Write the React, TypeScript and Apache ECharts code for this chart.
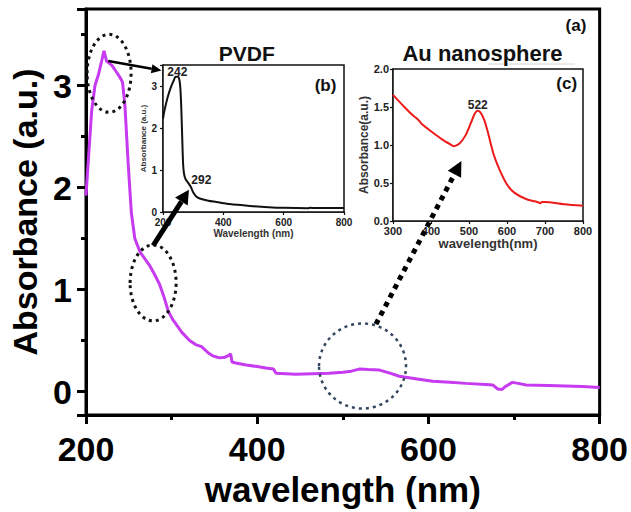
import React, { useEffect, useRef } from 'react';
import * as echarts from 'echarts';

// ---------- main spectrum (a) ----------
const mainWavelength = [200, 203, 206.6, 210.5, 214.3, 218.3, 221, 224, 230, 235.8, 240.4, 242.7, 245.5, 249.3, 253, 257, 263, 268, 274, 280, 286, 291, 296, 301, 306, 312, 321, 328, 335, 342.6, 348, 356, 362, 367.8, 369, 370.5, 375, 387, 400, 410, 419, 422, 445, 465, 484, 500, 510, 519, 530, 543, 555, 566, 585, 605, 625, 644, 667, 675, 681, 686, 690, 698, 705, 714, 740, 760, 780, 800];
const mainAbsorbance = [1.92, 2.3, 2.75, 3.0, 3.1, 3.24, 3.34, 3.24, 3.2, 3.13, 3.07, 3.03, 2.8, 2.23, 1.75, 1.5, 1.37, 1.31, 1.24, 1.15, 1.05, 0.93, 0.79, 0.71, 0.65, 0.58, 0.5, 0.46, 0.44, 0.38, 0.35, 0.33, 0.335, 0.36, 0.37, 0.29, 0.28, 0.26, 0.245, 0.23, 0.22, 0.18, 0.17, 0.175, 0.18, 0.19, 0.2, 0.22, 0.215, 0.21, 0.18, 0.15, 0.125, 0.1, 0.09, 0.08, 0.07, 0.065, 0.025, 0.02, 0.05, 0.09, 0.08, 0.065, 0.06, 0.055, 0.05, 0.04];

// ---------- inset (b) PVDF ----------
const pvdfWavelength = [200, 205, 215, 225, 235, 242, 250, 255, 258, 261, 264, 267, 270, 275, 283, 292, 300, 310, 322, 350, 377, 420, 488, 550, 600, 680, 690, 700, 800];
const pvdfAbsorbance = [2.22, 2.42, 2.72, 2.95, 3.12, 3.22, 3.22, 3.12, 2.9, 2.4, 1.7, 1.1, 0.9, 0.78, 0.7, 0.6, 0.47, 0.37, 0.32, 0.27, 0.24, 0.19, 0.145, 0.115, 0.1, 0.092, 0.1, 0.095, 0.096];

// ---------- inset (c) Au nanosphere ----------
const auWavelength = [300, 330, 350, 365, 370, 375, 400, 430, 450, 460, 475, 490, 505, 515, 522, 530, 540, 550, 565, 580, 600, 620, 650, 680, 688, 692, 700, 750, 800];
const auAbsorbance = [1.66, 1.5, 1.4, 1.34, 1.31, 1.28, 1.18, 1.07, 1.01, 0.985, 1.02, 1.12, 1.29, 1.41, 1.45, 1.43, 1.33, 1.16, 0.875, 0.68, 0.48, 0.37, 0.29, 0.25, 0.235, 0.25, 0.25, 0.22, 0.2];

// ---------- tick values ----------
const mainXTicks = [200, 400, 600, 800];
const mainYTicks = [0, 1, 2, 3];

const zip = (xs: number[], ys: number[]) => xs.map((x, i) => [x, ys[i]]);

const FONT = '"Liberation Sans", Arial, sans-serif';

export default function App() {
  const ref = useRef<HTMLDivElement>(null);

  useEffect(() => {
    if (!ref.current) return;
    const chart = echarts.init(ref.current, undefined, { renderer: 'svg' });

    const bold = (size: number, color = '#000') => ({ fontFamily: FONT, fontWeight: 'bold' as const, fontSize: size, color });

    chart.setOption({
      animation: false,
      backgroundColor: '#fff',
      grid: [
        { left: 86, right: 30, top: 9, bottom: 89, show: true, borderColor: '#000', borderWidth: 3, backgroundColor: 'transparent' },
        { left: 163, top: 65, width: 181, height: 147, show: true, borderColor: '#111', borderWidth: 1.5, backgroundColor: '#fff', z: 5 },
        { left: 393, top: 69, width: 190, height: 152, show: true, borderColor: '#111', borderWidth: 1.5, backgroundColor: '#fff', z: 5 },
      ],
      xAxis: [
        {
          gridIndex: 0, type: 'value', min: 200, max: 800, interval: 200,
          axisLine: { onZero: false, lineStyle: { color: '#000', width: 3 } },
          axisTick: { length: 9, lineStyle: { width: 3, color: '#000' } },
          minorTick: { show: true, splitNumber: 2, length: 5, lineStyle: { width: 3, color: '#000' } },
          splitLine: { show: false },
          axisLabel: { ...bold(34), margin: 17, formatter: (v: number) => (mainXTicks.includes(v) ? String(v) : '') },
          name: 'wavelength (nm)', nameLocation: 'middle', nameGap: 57,
          nameTextStyle: bold(35),
        },
        {
          gridIndex: 1, type: 'value', min: 200, max: 800, interval: 200,
          axisLine: { onZero: false, lineStyle: { color: '#111', width: 1.5 } },
          axisTick: { length: 3, lineStyle: { width: 1.2, color: '#111' } },
          splitLine: { show: false },
          axisLabel: { ...bold(10, '#222'), margin: 5 },
          name: 'Wavelength (nm)', nameLocation: 'middle', nameGap: 16,
          nameTextStyle: bold(10, '#333'),
        },
        {
          gridIndex: 2, type: 'value', min: 300, max: 800, interval: 100,
          axisLine: { onZero: false, lineStyle: { color: '#111', width: 1.5 } },
          axisTick: { length: 3, lineStyle: { width: 1.2, color: '#111' } },
          splitLine: { show: false },
          axisLabel: { ...bold(11, '#222'), margin: 4 },
          name: 'wavelength(nm)', nameLocation: 'middle', nameGap: 14,
          nameTextStyle: bold(13, '#333'),
        },
      ],
      yAxis: [
        {
          gridIndex: 0, type: 'value', min: -0.23, max: 3.75, splitNumber: 4,
          axisLine: { onZero: false, lineStyle: { color: '#000', width: 3 } },
          axisTick: { length: 9, lineStyle: { width: 3, color: '#000' } },
          minorTick: { show: true, splitNumber: 2, length: 5, lineStyle: { width: 3, color: '#000' } },
          splitLine: { show: false },
          axisLabel: { ...bold(34), margin: 14, formatter: (v: number) => (mainYTicks.includes(v) ? String(v) : '') },
          name: 'Absorbance (a.u.)', nameLocation: 'middle', nameGap: 42,
          nameTextStyle: bold(34),
        },
        {
          gridIndex: 1, type: 'value', min: 0, max: 3.5, interval: 1,
          axisLine: { onZero: false, lineStyle: { color: '#111', width: 1.5 } },
          axisTick: { length: 3, lineStyle: { width: 1.2, color: '#111' } },
          splitLine: { show: false },
          axisLabel: { ...bold(10, '#222'), margin: 6, formatter: (v: number) => (Number.isInteger(v) ? String(v) : '') },
          name: 'Absorbance (a.u.)', nameLocation: 'middle', nameGap: 14,
          nameTextStyle: bold(8, '#333'),
        },
        {
          gridIndex: 2, type: 'value', min: 0, max: 2, interval: 0.5,
          axisLine: { onZero: false, lineStyle: { color: '#111', width: 1.5 } },
          axisTick: { length: 3, lineStyle: { width: 1.2, color: '#111' } },
          splitLine: { show: false },
          axisLabel: { ...bold(11, '#222'), margin: 4, formatter: (v: number) => v.toFixed(1) },
          name: 'Absorbance(a.u.)', nameLocation: 'middle', nameGap: 23,
          nameTextStyle: bold(12, '#333'),
        },
      ],
      series: [
        {
          type: 'line', xAxisIndex: 0, yAxisIndex: 0, data: zip(mainWavelength, mainAbsorbance),
          showSymbol: false, smooth: false, lineStyle: { color: '#C63AF0', width: 3 }, z: 3,
        },
        {
          type: 'line', xAxisIndex: 1, yAxisIndex: 1, data: zip(pvdfWavelength, pvdfAbsorbance),
          showSymbol: false, smooth: 0.3, lineStyle: { color: '#111', width: 2 }, z: 6,
        },
        {
          type: 'line', xAxisIndex: 2, yAxisIndex: 2, data: zip(auWavelength, auAbsorbance),
          showSymbol: false, smooth: 0.3, lineStyle: { color: '#EE1A1A', width: 2 }, z: 6,
        },
      ],
    });

    const px = (grid: number, p: number[]) => chart.convertToPixel({ gridIndex: grid }, p) as number[];

    const arrow = (a: number[], b: number[], width: number, headLen: number, headW: number, dash?: number[]) => {
      const dx = b[0] - a[0];
      const dy = b[1] - a[1];
      const L = Math.hypot(dx, dy);
      const ux = dx / L, uy = dy / L;
      const base = [b[0] - ux * headLen, b[1] - uy * headLen];
      const nx = -uy, ny = ux;
      return [
        {
          type: 'line', z: 100,
          shape: { x1: a[0], y1: a[1], x2: base[0], y2: base[1] },
          style: { stroke: '#000', lineWidth: width, lineDash: dash },
        },
        {
          type: 'polygon', z: 100,
          shape: { points: [b, [base[0] + nx * headW / 2, base[1] + ny * headW / 2], [base[0] - nx * headW / 2, base[1] - ny * headW / 2]] },
          style: { fill: '#000' },
        },
      ];
    };

    // annotation anchors (data coordinates of the relevant panel)
    const peakCenter = px(0, [227, 3.12]);
    const shoulderCenter = px(0, [278.4, 1.065]);
    const plasmonCenter = px(0, [523, 0.25]);
    const p242 = px(1, [247.7, 3.34]);
    const p292 = px(1, [327, 0.76]);
    const p522 = px(2, [523, 1.53]);

    const txt = (x: number, y: number, text: string, size: number, fill = '#111') => ({
      type: 'text', z: 101, x, y,
      style: { text, font: `bold ${size}px ${FONT}`, fill, align: 'center', verticalAlign: 'middle' },
    });

    const graphics: any[] = [
      { type: 'ellipse', z: 100, shape: { cx: peakCenter[0], cy: peakCenter[1], rx: 22, ry: 39 }, style: { fill: 'transparent', stroke: '#111', lineWidth: 3, lineDash: [3, 4] } },
      { type: 'ellipse', z: 100, shape: { cx: shoulderCenter[0], cy: shoulderCenter[1], rx: 23, ry: 38 }, style: { fill: 'transparent', stroke: '#111', lineWidth: 3, lineDash: [3, 4] } },
      { type: 'ellipse', z: 100, shape: { cx: plasmonCenter[0], cy: plasmonCenter[1], rx: 43.5, ry: 42.5 }, style: { fill: 'transparent', stroke: '#34465F', lineWidth: 2.5, lineDash: [3, 4] } },
      ...arrow(px(0, [226, 3.24]), px(1, [195, 3.37]), 2.5, 10, 9),
      ...arrow(px(0, [278.4, 1.43]), px(1, [286, 0.53]), 5, 14, 15),
      ...arrow(px(0, [538.7, 0.66]), px(2, [480, 0.79]), 5, 15, 15, [5, 5]),
      txt(p242[0], p242[1], '242', 12, '#222'),
      txt(p292[0], p292[1], '292', 12, '#222'),
      txt(p522[0], p522[1], '522', 12, '#222'),
      txt(246.7, 53, 'PVDF', 21),
      txt(482.5, 53, 'Au nanosphere', 22),
      { type: 'line', z: 99, shape: { x1: 488, y1: 64, x2: 575, y2: 64 }, style: { stroke: '#d4d4d4', lineWidth: 1 } },
      txt(325.5, 85, '(b)', 17),
      txt(566.7, 83, '(c)', 17),
      txt(576, 25, '(a)', 17),
    ];

    chart.setOption({ graphic: graphics });

    return () => chart.dispose();
  }, []);

  return <div ref={ref} style={{ position: 'fixed', left: 0, top: 0, width: 631, height: 512 }} />;
}
